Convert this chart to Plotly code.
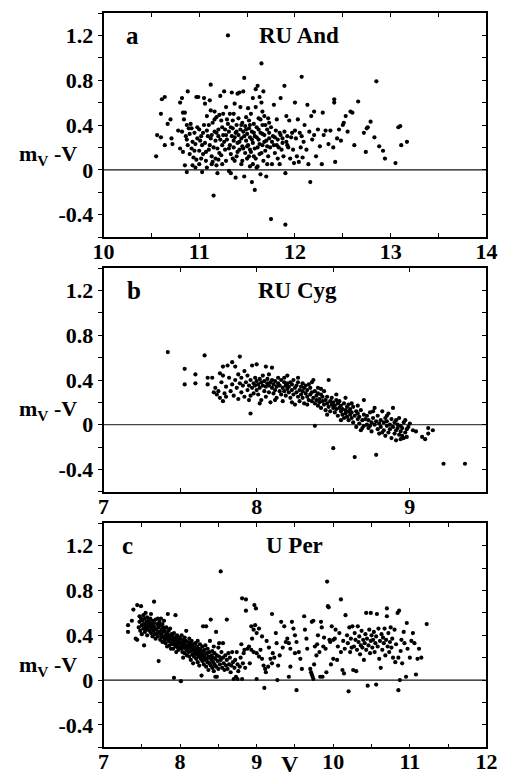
import plotly.graph_objects as go

# (V, m_V - V) pairs for each star
RU_AND = [
    (10.55, 0.12), (10.56, 0.31), (10.60, 0.50), (10.61, 0.63), (10.64, 0.65), (10.60, 0.29),
    (10.64, 0.22), (10.67, 0.41), (10.70, 0.45), (10.71, 0.28), (10.72, 0.23),
    (10.78, 0.35), (10.80, 0.60), (10.82, 0.64), (10.80, 0.19), (10.82, 0.34), (10.83, 0.51),
    (10.85, 0.51), (10.84, 0.45), (10.83, 0.16), (10.85, 0.04), (10.86, 0.30), (10.87, 0.40),
    (10.87, 0.27), (10.88, 0.70), (10.88, 0.22), (10.87, -0.02), (10.89, 0.37), (10.90, 0.14),
    (10.90, 0.32), (10.91, 0.41), (10.92, 0.19), (10.93, 0.25), (10.93, 0.04), (10.94, 0.11),
    (10.95, 0.33), (10.96, 0.23), (10.97, 0.65), (10.97, 0.09), (10.98, 0.28), (10.99, 0.65),
    (11.00, 0.05), (11.00, 0.17), (11.00, 0.36), (11.01, 0.26), (10.96, 0.02), (10.92, 0.37),
    (11.02, 0.10), (11.03, -0.02), (11.03, 0.22), (11.04, 0.33), (11.05, 0.64), (11.06, 0.59),
    (11.06, 0.24), (11.07, 0.16), (11.08, 0.48), (11.08, 0.02), (11.09, 0.30), (11.10, 0.40),
    (11.11, 0.22), (11.11, 0.62), (11.12, 0.76), (11.12, 0.53), (11.13, 0.31), (11.13, 0.12),
    (11.14, 0.07), (11.14, 0.42), (11.15, 0.20), (11.15, -0.23), (11.16, 0.34), (11.16, 0.52),
    (11.17, 0.10), (11.17, 0.26), (11.18, 0.47), (11.18, 0.04), (11.19, -0.03), (11.19, 0.19),
    (11.20, 0.36), (11.20, 0.30), (11.21, 0.49), (11.22, 0.27), (11.22, 0.66), (11.23, 0.13),
    (11.23, 0.44), (11.24, 0.22), (11.24, 0.38), (11.25, 0.50), (11.25, 0.31),
    (11.26, 0.70), (11.27, 0.36), (11.27, 0.18), (11.28, 0.08), (11.28, 0.56), (11.29, 0.27),
    (11.30, 1.20), (11.30, 0.41), (11.31, -0.01), (11.31, 0.34), (11.32, 0.22), (11.32, 0.50),
    (11.33, -0.03), (11.33, 0.14), (11.34, 0.69), (11.34, 0.30), (11.35, 0.37), (11.35, 0.44),
    (11.36, 0.20), (11.36, 0.26), (11.37, 0.08), (11.37, 0.59), (11.38, 0.33), (11.38, -0.07),
    (11.39, 0.40), (11.39, 0.12), (11.40, 0.68), (11.40, 0.24), (11.41, 0.46), (11.41, 0.31),
    (11.42, 0.69), (11.42, 0.18), (11.43, 0.56), (11.43, 0.36), (11.44, 0.05), (11.44, 0.28),
    (11.45, 0.42), (11.45, 0.21), (11.46, 0.70), (11.46, 0.34), (11.47, 0.82), (11.47, -0.06),
    (11.48, 0.15), (11.48, 0.39), (11.49, 0.26), (11.49, 0.47), (11.50, 0.10), (11.50, 0.32),
    (11.51, 0.55), (11.51, 0.22), (11.52, 0.37), (11.52, 0.44), (11.53, 0.03), (11.53, 0.29),
    (11.54, 0.50), (11.54, 0.16), (11.55, -0.11), (11.55, 0.34), (11.56, 0.64), (11.56, 0.24),
    (11.57, 0.41), (11.57, 0.12), (11.58, -0.18), (11.58, 0.30), (11.59, 0.72), (11.59, 0.56),
    (11.60, 0.02), (11.60, 0.38), (11.61, 0.20), (11.61, 0.75), (11.62, 0.46), (11.62, 0.27),
    (11.63, 0.65), (11.63, 0.14), (11.64, 0.33), (11.64, -0.04), (11.65, 0.95), (11.65, 0.60),
    (11.66, 0.22), (11.66, 0.40), (11.67, 0.70), (11.67, 0.08), (11.68, 0.31), (11.68, 0.48),
    (11.69, 0.17), (11.70, 0.26), (11.70, -0.06), (11.71, 0.36), (11.72, 0.46), (11.72, 0.12),
    (11.73, 0.28), (11.74, 0.20), (11.75, -0.44), (11.75, 0.38),
    (11.76, 0.05), (11.77, 0.30), (11.78, 0.58), (11.78, 0.22), (11.79, 0.15), (11.80, 0.35),
    (11.81, 0.45), (11.82, 0.10), (11.82, 0.27), (11.83, 0.20), (11.84, 0.05), (11.85, 0.64),
    (11.85, 0.31), (11.86, 0.18), (11.87, 0.28), (11.88, 0.12), (11.89, 0.75), (11.89, 0.34),
    (11.90, -0.49), (11.90, -0.03), (11.91, 0.48), (11.91, 0.25), (11.92, 0.30), (11.93, 0.20),
    (11.94, 0.44), (11.95, 0.10), (11.96, 0.29), (11.97, 0.33), (11.98, 0.18), (12.00, 0.60),
    (12.00, 0.35), (11.99, 0.06),
    (12.01, 0.28), (12.02, 0.12), (12.03, 0.45), (12.04, 0.07), (12.05, 0.33), (12.06, 0.20),
    (12.07, 0.83), (12.07, 0.30), (12.08, 0.11), (12.09, 0.25), (12.10, 0.40), (12.12, 0.18),
    (12.13, 0.58), (12.14, 0.05), (12.15, 0.34), (12.16, -0.11), (12.17, 0.48), (12.18, 0.27),
    (12.20, 0.52), (12.20, 0.31), (12.22, 0.12), (12.24, 0.36), (12.26, 0.21), (12.28, 0.05),
    (12.29, 0.51), (12.30, 0.31), (12.32, 0.35), (12.35, 0.23), (12.37, 0.35), (12.40, 0.20),
    (12.41, 0.63), (12.41, 0.60), (12.42, 0.07), (12.44, 0.28), (12.46, 0.36), (12.48, 0.26),
    (12.50, 0.40), (12.51, 0.42), (12.53, 0.48), (12.55, 0.34), (12.58, 0.52), (12.60, 0.51),
    (12.62, 0.22), (12.66, 0.61), (12.72, 0.33), (12.74, 0.16), (12.75, 0.37), (12.76, 0.38),
    (12.79, 0.43), (12.83, 0.29), (12.85, 0.79), (12.88, 0.21), (12.92, 0.17), (12.94, 0.10),
    (13.05, 0.06), (13.08, 0.38), (13.10, 0.39), (13.11, 0.22), (13.17, 0.25),
    (11.05, 0.40), (11.08, 0.35), (11.10, 0.18), (11.12, 0.28), (11.16, 0.45), (11.18, 0.33),
    (11.21, 0.15), (11.26, 0.25), (11.29, 0.45), (11.31, 0.19), (11.33, 0.38), (11.35, 0.10),
    (11.37, 0.29), (11.39, 0.34), (11.40, 0.16), (11.42, 0.25), (11.44, 0.40), (11.46, 0.19),
    (11.47, 0.30), (11.49, 0.36), (11.50, 0.21), (11.52, 0.12), (11.53, 0.40), (11.55, 0.27),
    (11.57, 0.33), (11.58, 0.19), (11.60, 0.29), (11.62, 0.36), (11.63, 0.23), (11.65, 0.15),
    (11.66, 0.32), (11.68, 0.25), (11.69, 0.40), (11.71, 0.21), (11.73, 0.33), (11.76, 0.25),
    (11.79, 0.29), (11.81, 0.22), (11.84, 0.33), (11.87, 0.24), (11.92, 0.22), (10.95, 0.17),
    (10.98, 0.38), (11.02, 0.30), (11.04, 0.14), (11.07, 0.08), (11.13, 0.05), (11.20, 0.09),
    (11.24, 0.05), (11.45, 0.08), (11.53, 0.18), (11.56, 0.05), (11.59, 0.10), (11.61, 0.03),
    (11.64, 0.45), (11.66, 0.52), (11.71, 0.05), (11.73, 0.42), (11.36, 0.50), (11.28, 0.31),
]

RU_CYG = [
    (7.42, 0.65), (7.53, 0.50), (7.53, 0.36), (7.60, 0.45), (7.60, 0.37), (7.66, 0.62),
    (7.68, 0.42), (7.71, 0.42), (7.68, 0.36),
    (7.72, 0.29), (7.73, 0.33), (7.74, 0.27), (7.75, 0.30), (7.76, 0.24), (7.77, 0.38),
    (7.78, 0.21), (7.78, 0.44), (7.79, 0.28), (7.80, 0.34), (7.76, 0.46), (7.78, 0.52),
    (7.81, 0.53), (7.80, 0.25),
    (7.82, 0.42), (7.83, 0.30), (7.84, 0.56), (7.84, 0.36), (7.85, 0.26), (7.86, 0.52),
    (7.86, 0.40), (7.87, 0.33), (7.88, 0.45), (7.88, 0.23), (7.89, 0.61), (7.89, 0.37),
    (7.90, 0.29), (7.90, 0.42), (7.91, 0.35), (7.92, 0.25), (7.92, 0.48),
    (7.93, 0.38), (7.94, 0.31), (7.94, 0.44), (7.95, 0.35), (7.95, 0.22), (7.96, 0.10),
    (7.96, 0.40), (7.97, 0.53), (7.97, 0.33), (7.98, 0.37), (7.98, 0.28), (7.99, 0.42),
    (7.99, 0.35), (8.00, 0.39), (8.00, 0.31), (8.00, 0.54),
    (8.01, 0.36), (8.01, 0.27), (8.02, 0.41), (8.02, 0.33), (8.03, 0.38), (8.03, 0.22),
    (8.04, 0.35), (8.04, 0.44), (8.05, 0.30), (8.05, 0.39), (8.06, 0.52), (8.06, 0.34),
    (8.06, 0.25), (8.07, 0.37), (8.07, 0.41), (8.08, 0.29), (8.08, 0.35), (8.09, 0.38),
    (8.09, 0.20), (8.10, 0.33), (8.10, 0.51), (8.10, 0.40),
    (8.11, 0.36), (8.11, 0.28), (8.12, 0.39), (8.12, 0.31), (8.13, 0.34), (8.13, 0.24),
    (8.14, 0.42), (8.14, 0.37), (8.15, 0.30), (8.15, 0.35), (8.16, 0.27), (8.16, 0.40),
    (8.17, 0.33), (8.17, 0.21), (8.18, 0.38), (8.18, 0.30), (8.19, 0.35), (8.19, 0.26),
    (8.20, 0.44), (8.20, 0.32), (8.20, 0.37),
    (8.21, 0.29), (8.21, 0.34), (8.22, 0.38), (8.22, 0.24), (8.23, 0.31), (8.23, 0.36),
    (8.24, 0.27), (8.24, 0.40), (8.25, 0.33), (8.25, 0.18), (8.26, 0.29), (8.26, 0.35),
    (8.27, 0.25), (8.27, 0.38), (8.28, 0.31), (8.28, 0.21), (8.29, 0.34), (8.29, 0.27),
    (8.30, 0.37), (8.30, 0.30), (8.30, 0.24),
    (8.31, 0.33), (8.31, 0.19), (8.32, 0.28), (8.32, 0.35), (8.33, 0.25), (8.33, 0.31),
    (8.34, 0.22), (8.34, 0.36), (8.35, 0.27), (8.35, 0.33), (8.36, 0.21), (8.36, 0.29),
    (8.37, 0.24), (8.37, 0.40), (8.38, -0.01), (8.38, 0.30), (8.38, 0.19), (8.39, 0.26),
    (8.39, 0.22), (8.40, 0.28), (8.40, 0.17), (8.40, 0.33),
    (8.41, 0.23), (8.41, 0.20), (8.42, 0.27), (8.42, 0.15), (8.43, 0.21), (8.43, 0.25),
    (8.44, 0.18), (8.44, 0.30), (8.45, 0.22), (8.45, 0.13), (8.46, 0.19), (8.46, 0.25),
    (8.47, 0.16), (8.47, 0.40), (8.48, 0.21), (8.48, 0.12), (8.49, 0.18), (8.49, 0.24),
    (8.50, 0.15), (8.50, -0.21), (8.50, 0.20),
    (8.51, 0.11), (8.51, 0.17), (8.52, 0.22), (8.52, 0.14), (8.53, 0.19), (8.53, 0.08),
    (8.54, 0.15), (8.54, 0.21), (8.55, 0.12), (8.55, 0.17), (8.56, 0.09), (8.56, 0.14),
    (8.57, 0.19), (8.57, 0.06), (8.58, 0.13), (8.58, 0.10), (8.59, 0.16), (8.59, 0.07),
    (8.60, 0.12), (8.60, 0.18), (8.60, 0.04),
    (8.61, 0.09), (8.61, 0.14), (8.62, 0.06), (8.62, 0.11), (8.63, 0.16), (8.63, 0.02),
    (8.64, 0.08), (8.64, -0.29), (8.65, 0.12), (8.65, -0.02), (8.66, 0.05), (8.66, 0.10),
    (8.67, 0.01), (8.67, 0.07), (8.68, 0.13), (8.68, -0.05), (8.69, 0.04), (8.70, 0.09),
    (8.70, -0.01), (8.70, 0.22),
    (8.71, 0.05), (8.72, 0.00), (8.72, 0.08), (8.73, -0.03), (8.73, 0.04), (8.74, 0.11),
    (8.75, 0.02), (8.75, -0.06), (8.76, 0.06), (8.77, 0.00), (8.77, 0.15), (8.78, -0.27),
    (8.78, 0.03), (8.79, -0.04), (8.79, 0.08), (8.80, 0.01), (8.80, -0.08),
    (8.81, 0.04), (8.81, -0.02), (8.82, 0.12), (8.83, -0.05), (8.83, 0.02), (8.84, 0.06),
    (8.84, -0.10), (8.85, -0.01), (8.85, 0.03), (8.86, -0.07), (8.86, 0.10), (8.87, 0.00),
    (8.87, -0.04), (8.88, -0.12), (8.88, 0.05), (8.89, -0.02), (8.89, 0.15), (8.90, -0.08),
    (8.90, 0.02),
    (8.91, -0.05), (8.91, -0.14), (8.92, 0.00), (8.92, -0.03), (8.93, -0.09), (8.93, 0.06),
    (8.94, -0.06), (8.94, -0.01), (8.95, -0.10), (8.95, -0.03), (8.96, -0.12), (8.96, 0.02),
    (8.97, -0.07), (8.98, -0.04), (8.98, -0.11), (9.00, 0.01), (8.99, -0.02),
    (9.02, -0.05), (9.04, -0.06), (9.08, -0.11), (9.10, -0.13), (9.12, -0.08), (9.12, -0.03),
    (9.15, -0.05), (9.22, -0.35), (9.36, -0.35),
    (7.96, 0.26), (8.02, 0.19), (8.08, 0.45), (8.12, 0.22), (8.18, 0.42), (8.23, 0.20),
    (8.27, 0.42), (8.33, 0.18), (8.36, 0.38), (8.42, 0.32), (8.46, 0.09), (8.52, 0.27),
    (8.55, 0.04), (8.58, 0.24), (8.62, 0.19), (8.66, 0.17), (8.69, -0.03), (8.74, -0.01),
    (8.76, 0.12), (8.82, -0.07), (8.85, 0.08), (8.91, 0.04), (8.94, -0.13), (8.97, 0.04),
]

U_PER = [
    (7.32, 0.49), (7.32, 0.43), (7.37, 0.53), (7.39, 0.63), (7.42, 0.37), (7.44, 0.36),
    (7.44, 0.67), (7.46, 0.47), (7.47, 0.52), (7.48, 0.44), (7.49, 0.66), (7.49, 0.55),
    (7.50, 0.49), (7.50, 0.41), (7.47, 0.57),
    (7.51, 0.53), (7.52, 0.46), (7.52, 0.58), (7.53, 0.50), (7.53, 0.31), (7.54, 0.55),
    (7.54, 0.43), (7.55, 0.48), (7.55, 0.60), (7.56, 0.52), (7.56, 0.45), (7.57, 0.56),
    (7.57, 0.40), (7.58, 0.50), (7.58, 0.47), (7.59, 0.53), (7.60, 0.44), (7.60, 0.51),
    (7.61, 0.48), (7.61, 0.55), (7.62, 0.42), (7.62, 0.59), (7.63, 0.50), (7.63, 0.46),
    (7.64, 0.53), (7.64, 0.39), (7.65, 0.48), (7.65, 0.44), (7.66, 0.70), (7.66, 0.51),
    (7.67, 0.41), (7.67, 0.47), (7.68, 0.54), (7.68, 0.37), (7.69, 0.45), (7.70, 0.50),
    (7.70, 0.42),
    (7.71, 0.55), (7.71, 0.39), (7.72, 0.17), (7.72, 0.47), (7.73, 0.43), (7.73, 0.52),
    (7.74, 0.36), (7.74, 0.49), (7.75, 0.41), (7.75, 0.55), (7.76, 0.45), (7.76, 0.38),
    (7.77, 0.50), (7.77, 0.34), (7.78, 0.43), (7.78, 0.47), (7.79, 0.39), (7.79, 0.53),
    (7.80, 0.36), (7.80, 0.44),
    (7.81, 0.40), (7.81, 0.33), (7.82, 0.47), (7.82, 0.37), (7.83, 0.42), (7.83, 0.30),
    (7.84, 0.38), (7.84, 0.59), (7.85, 0.35), (7.85, 0.44), (7.86, 0.40), (7.86, 0.31),
    (7.87, 0.37), (7.87, 0.46), (7.88, 0.34), (7.88, 0.28), (7.89, 0.41), (7.89, 0.36),
    (7.90, 0.32), (7.90, 0.39),
    (7.91, 0.35), (7.91, 0.28), (7.92, 0.42), (7.92, 0.02), (7.93, 0.33), (7.93, 0.38),
    (7.94, 0.58), (7.94, 0.30), (7.95, 0.36), (7.95, 0.25), (7.96, 0.40), (7.96, 0.32),
    (7.97, 0.29), (7.97, 0.35), (7.98, 0.38), (7.98, 0.27), (7.99, 0.33), (8.00, 0.30),
    (8.00, 0.37), (8.01, -0.01),
    (8.01, 0.34), (8.02, 0.28), (8.02, 0.40), (8.03, 0.31), (8.03, 0.25), (8.04, 0.36),
    (8.04, 0.20), (8.05, 0.33), (8.05, 0.29), (8.06, 0.38), (8.06, 0.24), (8.07, 0.31),
    (8.07, 0.35), (8.08, 0.27), (8.08, 0.44), (8.09, 0.30), (8.09, 0.22), (8.10, 0.34),
    (8.10, 0.28),
    (8.11, 0.25), (8.11, 0.31), (8.12, 0.37), (8.12, 0.21), (8.13, 0.29), (8.13, 0.33),
    (8.14, 0.26), (8.14, 0.18), (8.15, 0.30), (8.15, 0.35), (8.16, 0.23), (8.16, 0.28),
    (8.17, 0.32), (8.17, 0.15), (8.18, 0.26), (8.18, 0.21), (8.19, 0.29), (8.20, 0.24),
    (8.20, 0.33),
    (8.21, 0.19), (8.21, 0.27), (8.22, 0.30), (8.22, 0.23), (8.23, 0.16), (8.23, 0.35),
    (8.24, 0.25), (8.24, 0.21), (8.25, 0.28), (8.25, 0.13), (8.26, 0.32), (8.26, 0.24),
    (8.27, 0.19), (8.27, 0.27), (8.28, 0.04), (8.28, 0.22), (8.29, 0.30), (8.29, 0.17),
    (8.30, 0.25), (8.30, 0.48),
    (8.31, 0.20), (8.31, 0.14), (8.32, 0.27), (8.32, 0.22), (8.33, 0.18), (8.33, 0.31),
    (8.34, 0.48), (8.34, 0.12), (8.35, 0.24), (8.35, 0.19), (8.36, 0.16), (8.36, 0.28),
    (8.37, 0.21), (8.37, 0.09), (8.38, 0.25), (8.38, 0.15), (8.39, 0.20), (8.39, 0.35),
    (8.40, 0.54), (8.40, 0.13),
    (8.41, 0.22), (8.41, 0.18), (8.42, 0.11), (8.42, 0.26), (8.43, 0.16), (8.43, 0.20),
    (8.44, 0.08), (8.44, 0.30), (8.45, 0.14), (8.45, 0.24), (8.46, 0.03), (8.46, 0.19),
    (8.47, 0.43), (8.47, 0.12), (8.48, 0.22), (8.48, 0.03), (8.49, 0.17), (8.50, 0.29),
    (8.50, 0.10),
    (8.51, 0.33), (8.51, 0.21), (8.52, 0.14), (8.53, 0.97), (8.53, 0.18), (8.54, 0.25),
    (8.55, 0.11), (8.56, 0.33), (8.56, 0.20), (8.57, 0.15), (8.58, 0.09), (8.59, 0.22),
    (8.60, 0.13), (8.61, 0.54), (8.61, 0.18), (8.62, 0.10), (8.63, 0.24), (8.64, 0.14),
    (8.65, 0.20),
    (8.66, 0.07), (8.67, 0.13), (8.68, 0.25), (8.69, 0.16), (8.70, 0.01), (8.71, 0.11),
    (8.72, 0.18), (8.73, 0.03), (8.74, 0.25), (8.75, 0.14), (8.75, 0.01), (8.76, 0.08),
    (8.78, 0.12), (8.79, 0.20), (8.80, 0.32), (8.81, 0.01), (8.82, 0.15), (8.83, 0.24),
    (8.84, 0.27), (8.85, 0.11),
    (8.81, 0.73), (8.86, 0.72), (8.86, 0.62), (8.97, 0.67), (8.99, 0.64),
    (8.93, 0.48), (8.96, 0.45), (8.98, 0.49), (9.00, 0.42), (9.03, 0.46), (9.07, 0.39),
    (8.90, 0.30), (8.93, 0.27), (8.96, 0.25), (9.00, 0.24), (9.03, 0.21), (9.07, 0.19),
    (9.09, 0.13), (9.11, 0.10), (9.12, 0.07), (9.00, 0.01), (9.10, -0.07), (8.94, 0.37),
    (9.16, 0.29), (9.18, 0.19), (9.20, 0.15), (9.21, 0.24), (9.23, 0.20), (9.26, 0.33),
    (9.20, 0.59), (9.25, 0.42),
    (9.32, 0.52), (9.36, 0.48), (9.38, 0.34), (9.40, 0.37), (9.42, 0.33), (9.44, 0.28),
    (9.46, 0.52), (9.48, 0.46), (9.50, 0.40), (9.52, 0.34), (9.55, 0.25), (9.57, 0.19),
    (9.59, 0.10), (9.42, 0.03), (9.52, -0.09), (9.62, 0.57), (9.63, 0.45), (9.65, 0.37),
    (9.66, 0.28), (9.44, 0.12), (9.50, 0.24), (9.28, 0.13), (9.30, 0.22), (9.34, 0.29),
    (9.27, 0.00), (9.15, 0.12), (9.05, 0.27), (9.13, 0.35), (8.88, 0.28), (8.91, 0.15),
    (9.70, 0.10), (9.71, 0.07), (9.72, 0.05), (9.73, 0.03), (9.74, 0.01), (9.75, 0.14),
    (9.72, 0.52), (9.74, 0.53), (9.76, 0.30), (9.78, 0.22), (9.79, 0.32), (9.80, 0.40),
    (9.82, 0.25), (9.83, 0.03), (9.84, 0.52), (9.85, 0.47), (9.86, 0.03), (9.87, 0.30),
    (9.88, 0.38), (9.90, 0.28), (9.91, 0.07), (9.92, 0.88), (9.93, 0.66), (9.94, 0.65),
    (9.95, 0.36), (9.96, 0.34), (9.97, 0.14), (9.98, 0.48), (10.00, 0.36), (10.00, 0.19),
    (10.02, 0.37), (10.03, 0.45), (10.05, 0.18), (10.06, 0.30), (10.08, 0.42), (10.10, 0.72),
    (10.10, 0.25), (10.12, 0.09), (10.13, 0.35), (10.14, 0.06), (10.15, 0.28), (10.16, 0.58),
    (10.18, 0.40), (10.19, 0.33), (10.20, -0.10), (10.21, 0.47), (10.22, 0.25), (10.23, 0.37),
    (10.24, 0.29), (10.25, 0.48), (10.26, 0.09), (10.27, 0.30), (10.28, 0.42), (10.29, 0.36),
    (10.30, 0.08), (10.31, 0.27), (10.32, 0.48), (10.33, 0.34), (10.34, 0.39), (10.35, 0.23),
    (10.36, 0.31), (10.37, 0.44), (10.38, 0.29), (10.39, 0.36), (10.40, 0.18), (10.41, 0.33),
    (10.42, 0.41), (10.43, 0.60), (10.43, 0.27), (10.44, 0.37), (10.45, -0.05), (10.46, 0.31),
    (10.47, 0.45), (10.48, 0.24), (10.49, 0.60), (10.49, 0.35), (10.50, 0.40),
    (10.51, 0.29), (10.52, 0.36), (10.53, 0.43), (10.54, 0.25), (10.55, 0.33), (10.56, -0.04),
    (10.56, 0.39), (10.57, 0.59), (10.58, 0.30), (10.59, 0.46), (10.60, 0.19), (10.61, 0.35),
    (10.62, 0.11), (10.63, 0.41), (10.64, 0.27), (10.65, 0.38), (10.66, 0.33), (10.67, 0.46),
    (10.68, 0.22), (10.69, 0.36), (10.70, 0.64), (10.70, 0.57), (10.71, 0.30), (10.72, 0.42),
    (10.73, 0.25), (10.74, 0.34), (10.75, 0.47), (10.76, 0.29), (10.77, 0.37), (10.78, 0.20),
    (10.80, 0.45), (10.81, 0.16), (10.82, 0.32), (10.84, 0.60), (10.85, 0.20), (10.85, -0.09),
    (10.86, 0.62), (10.87, 0.00), (10.88, 0.26), (10.89, 0.36), (10.90, 0.15), (10.92, 0.43),
    (10.93, 0.33), (10.95, 0.03), (10.96, 0.51), (10.97, 0.28),
    (11.00, 0.20), (11.02, 0.35), (11.04, 0.42), (11.06, 0.33), (11.08, 0.05), (11.10, 0.19),
    (11.12, 0.28), (11.15, 0.20), (11.22, 0.50),
]

STAR_NAMES = ["RU And", "RU Cyg", "U Per"]
PANEL_TAGS = ["a", "b", "c"]
V_RANGES = [(10, 14), (7, 9.5), (7, 12)]
V_TICKS = [[10, 11, 12, 13, 14], [7, 8, 9], [7, 8, 9, 10, 11, 12]]
DM_RANGE = (-0.6, 1.4)
DM_TICKS = [1.2, 0.8, 0.4, 0, -0.4]
DM_TICK_TEXT = ["1.2", "0.8", "0.4", "0", "-0.4"]
Y_LABEL = "<b>m<sub>V</sub> -V</b>"
X_LABEL = "<b>V</b>"

W, H = 507, 777
SERIF = "Liberation Serif"
X_DOMAIN = [96.7 / W, 497.0 / W]
# panel boxes in pixels from the top: (top, bottom)
PANEL_BOXES = [(13.0, 237.0), (268.3, 491.7), (523.3, 747.3)]
TAG_X_PX = [127, 129, 122]
TITLE_X_PX = [301, 300, 296]

datasets = [RU_AND, RU_CYG, U_PER]

fig = go.Figure()
layout = dict(
    width=W, height=H, autosize=False,
    margin=dict(l=0, r=0, t=0, b=0),
    paper_bgcolor="white", plot_bgcolor="white",
    showlegend=False,
    font=dict(family=SERIF, color="black", size=20, weight="bold"),
)
annotations = []
shapes = []

tick_font = dict(family=SERIF, size=22, color="black", weight="bold")

for i, pts in enumerate(datasets):
    n = i + 1
    sx = "" if n == 1 else str(n)
    xa, ya = f"x{sx}", f"y{sx}"
    ya_r = f"y{n + 3}"
    top, bot = PANEL_BOXES[i]
    y_dom = [1 - bot / H, 1 - top / H]

    v = [p[0] for p in pts]
    dm = [p[1] for p in pts]
    fig.add_trace(go.Scatter(
        x=v, y=dm, mode="markers", xaxis=xa, yaxis=ya,
        marker=dict(size=4.2, color="black", line=dict(width=0)),
        hoverinfo="skip",
    ))
    # empty trace so the right-hand tick axis is drawn
    fig.add_trace(go.Scatter(x=[], y=[], xaxis=xa, yaxis=ya_r, hoverinfo="skip"))

    layout[f"xaxis{sx}"] = dict(
        domain=X_DOMAIN, anchor=ya, range=list(V_RANGES[i]),
        tickmode="array", tickvals=V_TICKS[i], ticktext=[f"<b>{t}</b>" for t in V_TICKS[i]],
        ticks="inside", ticklen=4, tickwidth=1, tickcolor="black",
        mirror="allticks", showline=True, linecolor="black", linewidth=1.5,
        minor=dict(tickmode="linear", tick0=0, dtick=0.5, ticks="inside",
                   ticklen=4, tickwidth=1, tickcolor="black", showgrid=False),
        showgrid=False, zeroline=False, tickfont=tick_font, fixedrange=True,
        ticklabelstandoff=-6, ticklabeloverflow="allow",
    )
    layout[f"yaxis{sx}"] = dict(
        domain=y_dom, anchor=xa, range=list(DM_RANGE),
        tickmode="array", tickvals=DM_TICKS, ticktext=[f"<b>{t}</b>" for t in DM_TICK_TEXT],
        ticks="outside", ticklen=4, tickwidth=1, tickcolor="black",
        mirror=True, showline=True, linecolor="black", linewidth=1.5,
        minor=dict(tickmode="linear", tick0=0, dtick=0.2, ticks="outside",
                   ticklen=4, tickwidth=1, tickcolor="black", showgrid=False),
        showgrid=False, zeroline=False, tickfont=tick_font, fixedrange=True,
        ticklabeloverflow="allow",
    )
    layout[f"yaxis{n + 3}"] = dict(
        overlaying=ya, side="right", anchor=xa, range=list(DM_RANGE),
        tickmode="array", tickvals=DM_TICKS, showticklabels=False,
        ticks="inside", ticklen=4, tickwidth=1, tickcolor="black",
        minor=dict(tickmode="linear", tick0=0, dtick=0.2, ticks="inside",
                   ticklen=4, tickwidth=1, tickcolor="black", showgrid=False),
        showline=False, showgrid=False, zeroline=False, fixedrange=True,
    )

    # reference line at m_V - V = 0
    shapes.append(dict(
        type="line", xref=f"{xa} domain", yref=ya, x0=0, x1=1, y0=0, y1=0,
        line=dict(color="#111" if n != 2 else "#444", width=1.3), layer="below",
    ))

    annotations.append(dict(
        text=f"<b>{PANEL_TAGS[i]}</b>", xref="paper", x=TAG_X_PX[i] / W, yref=ya, y=1.2,
        xanchor="center", yanchor="middle", showarrow=False,
        font=dict(family=SERIF, size=25, color="black", weight="bold"),
    ))
    annotations.append(dict(
        text=f"<b>{STAR_NAMES[i]}</b>", xref="paper", x=TITLE_X_PX[i] / W, yref=ya, y=1.2,
        xanchor="center", yanchor="middle", showarrow=False,
        font=dict(family=SERIF, size=23, color="black", weight="bold"),
    ))
    annotations.append(dict(
        text=Y_LABEL, xref="paper", x=39 / W, yref=ya, y=0.13,
        xanchor="center", yanchor="middle", showarrow=False,
        font=dict(family=SERIF, size=22, color="black", weight="bold"),
    ))

annotations.append(dict(
    text=X_LABEL, xref="paper", x=292 / W, yref="paper", y=1 - 764 / H,
    xanchor="center", yanchor="middle", showarrow=False,
    font=dict(family=SERIF, size=24, color="black", weight="bold"),
))

layout["annotations"] = annotations
layout["shapes"] = shapes
fig.update_layout(**layout)
fig.write_html("out.html")
